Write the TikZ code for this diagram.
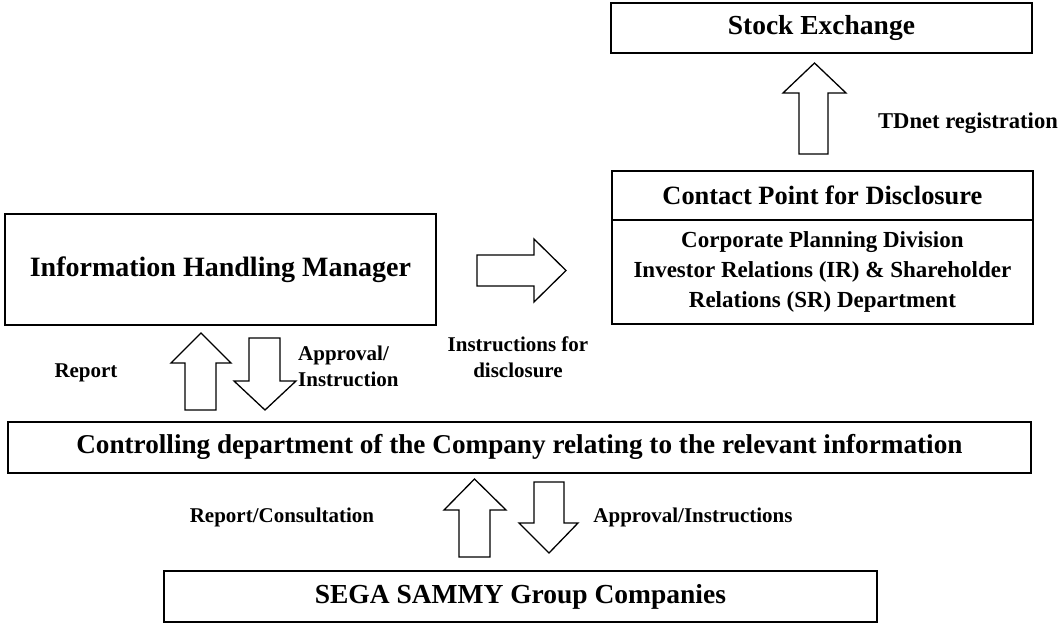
\documentclass[tikz,border=0pt]{standalone}
\usepackage{fontspec}
\setmainfont{Liberation Serif}
\begin{document}
\begin{tikzpicture}[x=1pt,y=-1pt,
  box/.style={draw, line width=1.8pt, inner sep=0pt, anchor=north west, align=center},
  blk/.style={draw, line width=1.3pt, fill=white, line join=miter},
  lbl/.style={inner sep=0pt, align=center, font=\fontsize{21}{26}\selectfont\bfseries},
  big/.style={font=\fontsize{27.5}{32}\selectfont\bfseries}
]
\useasboundingbox (0,0) rectangle (1059,624);

% boxes
\node[box, big, minimum width=421pt, minimum height=50pt] (se) at (610,2) {Stock Exchange};
\node[box, minimum width=421pt, minimum height=49pt, font=\fontsize{26.4}{30}\selectfont\bfseries] (cp) at (611,170) {Contact Point for Disclosure};
\node[box, minimum width=421pt, minimum height=104pt, font=\fontsize{23}{30}\selectfont\bfseries] (cpb) at (611,219) {Corporate Planning Division\\Investor Relations (IR) \& Shareholder\\Relations (SR) Department};
\node[box, minimum width=431pt, minimum height=111pt, font=\fontsize{28}{32}\selectfont\bfseries] (ihm) at (4,213) {Information Handling Manager};
\node[box, minimum width=1023pt, minimum height=51pt, font=\fontsize{27.2}{32}\selectfont\bfseries] (cd) at (7,421) {Controlling department of the Company relating to the relevant information};
\node[box, big, minimum width=713pt, minimum height=51pt] (sega) at (163,570) {SEGA SAMMY Group Companies};

% block arrows
\draw[blk] (799,154) -- (799,93) -- (783,93) -- (814.5,63) -- (846,93) -- (828,93) -- (828,154) -- cycle;
\draw[blk] (477,255) -- (534,255) -- (534,239) -- (566,270.5) -- (534,302) -- (534,286) -- (477,286) -- cycle;
\draw[blk] (185,410) -- (185,363) -- (171,363) -- (201,333) -- (231,363) -- (216,363) -- (216,410) -- cycle;
\draw[blk] (249,338) -- (249,381) -- (234,381) -- (265,410) -- (296,381) -- (280,381) -- (280,338) -- cycle;
\draw[blk] (459,557) -- (459,510) -- (444,510) -- (474.5,479) -- (506,510) -- (490,510) -- (490,557) -- cycle;
\draw[blk] (534,482) -- (534,523) -- (519,523) -- (549,553) -- (578,523) -- (564,523) -- (564,482) -- cycle;

% labels
\node[lbl, font=\fontsize{22.6}{26}\selectfont\bfseries] (tdnet) at (968,123) {TDnet registration};
\node[lbl, align=left, anchor=west] (appr) at (298,366) {Approval/\\Instruction};
\node[lbl] (rep) at (86,373) {Report};
\node[lbl] (instr) at (518,357) {Instructions for\\disclosure};
\node[lbl] (repc) at (282,517) {Report/Consultation};
\node[lbl] (apps) at (693,517) {Approval/Instructions};
\end{tikzpicture}
\end{document}
